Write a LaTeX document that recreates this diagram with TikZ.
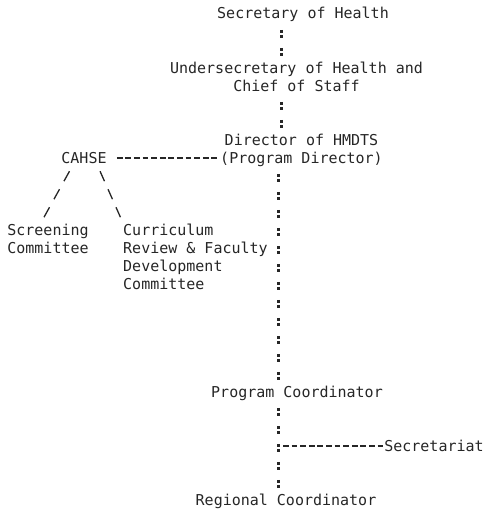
\documentclass[tikz,border=0pt]{standalone}
\usepackage{fontspec}
\setmonofont{DejaVu Sans Mono}
\usetikzlibrary{calc}
\begin{document}
\begin{tikzpicture}[x=1pt,y=-1pt,
  lbl/.style={font=\ttfamily\fontsize{15}{18}\selectfont, text=black!85, inner xsep=0pt, inner ysep=0pt, text height=14pt, text depth=4pt},
  lbltwo/.style={lbl, align=center, text height=32pt},
  colons/.style={black!85, line width=3pt, dash pattern=on 2.7pt off 2.4pt on 2.7pt off 10.2pt, dash phase=11.4pt},
  dashline/.style={black!85, line width=1.3pt, dash pattern=on 5.8pt off 2.8pt},
  slashL/.style={black!85, line width=1.3pt, dash pattern=on 11.4pt off 9.2pt, dash phase=16pt},
  slashR/.style={black!85, line width=1.3pt, dash pattern=on 10.9pt off 8.8pt, dash phase=15.3pt}]
\useasboundingbox (0,0) rectangle (499,514);
\node[lbl] (sec) at (303,14) {Secretary of Health};
\node[lbltwo] (under) at (296.5,77) {Undersecretary of Health and\\Chief of Staff};
\node[lbltwo] (dir) at (301.5,149) {Director of HMDTS\\(Program Director)};
\node[lbl] (cahse) at (84,158) {CAHSE};
\node[lbltwo] (scr) at (48,239) {Screening\\Committee};
\node[lbl, align=left, text height=68pt, anchor=west] (cur) at (123,257) {Curriculum\\Review \& Faculty\\Development\\Committee};
\node[lbl] (pc) at (297,392) {Program Coordinator};
\node[lbl] (sect) at (434,446) {Secretariat};
\node[lbl] (rc) at (286,500) {Regional Coordinator};
\coordinate (c1) at (281,0);
\coordinate (c2) at (278,0);
\coordinate (sj) at (278,446);
\draw[colons] (sec.south -| c1) -- (under.north -| c1);
\draw[colons] (under.south -| c1) -- (dir.north -| c1);
\draw[colons] (dir.south -| c2) -- (pc.north -| c2);
\draw[colons] (pc.south -| c2) -- (rc.north -| c2);
\draw[dashline, shorten <=10pt, shorten >=2.5pt] (cahse.east) -- (cahse.east -| dir.west);
\draw[dashline, shorten <=5pt, shorten >=1pt] (sj) -- (sect.west);
\draw[slashL] ($(cahse.south west)+(10.5,0)$) -- ($(scr.north)+(-6,0)$);
\draw[slashR] ($(cahse.south east)+(-8.5,0)$) -- ($(cur.north west)+(-1,0)$);
\end{tikzpicture}
\end{document}
